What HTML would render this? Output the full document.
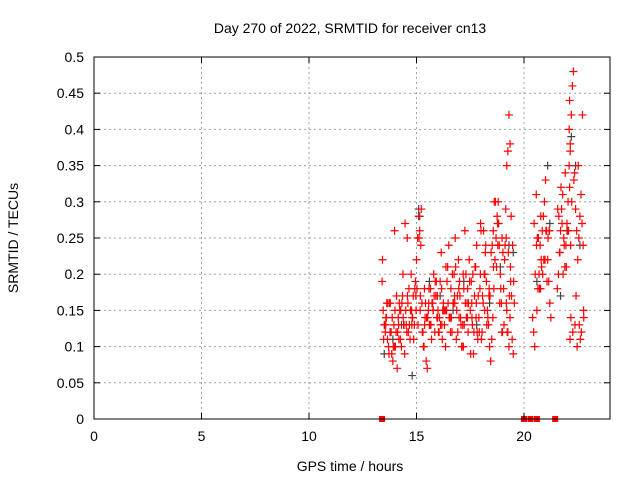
<!DOCTYPE html>
<html><head><meta charset="utf-8"><style>
body{margin:0;background:#fff}
svg{display:block;font-family:"Liberation Sans",sans-serif}
</style></head><body>
<svg id="chart" width="640" height="480">
<rect width="640" height="480" fill="#fff"/>
<g id="grid"></g><g id="marks"></g><g id="axes"></g>
<text x="350" y="33" font-size="14" text-anchor="middle">Day 270 of 2022, SRMTID for receiver cn13</text>
<text x="350" y="471" font-size="14" text-anchor="middle">GPS time / hours</text>
<text x="18" y="238" font-size="14" text-anchor="middle" transform="rotate(-90 18 238)">SRMTID / TECUs</text>
</svg>
<script>
const xTicks=[0,5,10,15,20];
const yTicks=[0,0.05,0.1,0.15,0.2,0.25,0.3,0.35,0.4,0.45,0.5];
const redHours=[13.4,13.45,13.5,13.55,13.6,13.65,13.7,13.75,13.8,13.85,13.9,13.95,14.0,14.05,14.1,14.15,14.2,14.25,14.3,14.35,14.4,14.45,14.5,14.55,14.6,14.65,14.7,14.75,14.8,14.85,14.9,14.95,15.0,15.05,15.1,15.15,15.2,15.25,15.3,15.35,15.4,15.45,15.5,15.55,15.6,15.65,15.7,15.75,15.8,15.85,15.9,15.95,16.0,16.05,16.1,16.15,16.2,16.25,16.3,16.35,16.4,16.45,16.5,16.55,16.6,16.65,16.7,16.75,16.8,16.85,16.9,16.95,17.0,17.05,17.1,17.15,17.2,17.25,17.3,17.35,17.4,17.45,17.5,17.55,17.6,17.65,17.7,17.75,17.8,17.85,17.9,17.95,18.0,18.05,18.1,18.15,18.2,18.25,18.3,18.35,18.4,18.45,18.5,18.55,18.6,18.65,18.7,18.75,18.8,18.85,18.9,18.95,19.0,19.05,19.1,19.15,19.2,19.25,19.3,19.35,19.4,19.45,19.5,19.55,20.4,20.45,20.5,20.6,20.65,20.7,20.75,20.8,20.85,20.9,20.95,21.0,21.05,21.1,21.15,21.2,21.25,21.55,21.6,21.65,21.7,21.75,21.8,21.85,21.9,21.95,22.0,22.05,22.1,22.15,22.2,22.25,22.3,22.35,22.4,22.45,22.5,22.55,22.6,22.65,22.7,22.75,13.42,13.62,13.82,14.02,14.22,14.42,14.62,14.82,15.02,15.22,15.42,15.62,15.82,16.02,16.22,16.42,16.62,16.82,17.02,17.22,17.42,17.62,17.82,18.02,18.22,18.42,18.62,18.82,19.02,19.22,19.42,20.52,20.72,20.92,21.12,21.62,21.82,22.02,22.22,22.42,22.62,22.78,13.52,13.72,13.92,14.12,14.32,14.52,14.72,14.92,15.12,15.32,15.52,15.72,15.92,16.12,16.32,16.52,16.72,16.92,17.12,17.32,17.52,17.72,17.92,18.12,18.32,18.52,18.72,18.92,19.12,19.32,19.52,20.62,20.82,21.02,21.72,21.92,22.12,22.32,22.52,22.72,22.1,22.12,22.15,22.18,22.14,19.2,19.25,19.3,19.35,
13.47,13.57,13.67,13.77,13.87,13.97,14.07,14.17,14.27,14.37,14.47,14.57,14.67,14.77,14.87,14.97,15.07,15.17,15.27,15.37,15.47,15.57,15.67,15.77,15.87,15.97,16.07,16.17,16.27,16.37,16.47,16.57,16.67,16.77,16.87,16.97,17.07,17.17,17.27,17.37,17.47,17.57,17.67,17.77,17.87,17.97,18.07,18.17,18.27,18.37,18.47,18.57,18.67,18.77,18.87,18.97,19.07,19.17,19.27,19.37,19.47,20.47,20.57,20.67,20.77,20.87,20.97,21.07,21.17,21.57,21.67,21.77,21.87,21.97,22.07,22.17,22.27,22.37,22.47,22.57,22.67,22.77,
13.58,13.78,13.98,14.18,14.38,14.58,14.78,14.98,15.18,15.38,15.58,15.78,15.98,16.18,16.38,16.58,16.78,16.98,17.18,17.38,17.58,17.78,17.98,18.18,18.38,18.58,18.78,18.98,19.18,19.38,20.58,20.78,20.98,21.18,21.68,21.88,22.08,22.28,22.48,22.68];
const redTec=[0.19,0.15,0.13,0.12,0.14,0.11,0.1,0.16,0.12,0.09,0.08,0.13,0.15,0.12,0.07,0.14,0.16,0.11,0.1,0.17,0.13,0.09,0.15,0.12,0.16,0.18,0.11,0.2,0.14,0.17,0.13,0.19,0.22,0.25,0.28,0.26,0.24,0.16,0.12,0.1,0.14,0.08,0.07,0.15,0.13,0.18,0.11,0.16,0.2,0.12,0.17,0.14,0.15,0.12,0.19,0.23,0.11,0.16,0.13,0.1,0.15,0.21,0.24,0.14,0.18,0.12,0.16,0.2,0.25,0.11,0.17,0.22,0.19,0.14,0.1,0.13,0.18,0.26,0.2,0.16,0.12,0.22,0.15,0.19,0.13,0.09,0.17,0.21,0.24,0.11,0.14,0.18,0.26,0.12,0.16,0.2,0.23,0.19,0.15,0.13,0.1,0.08,0.11,0.14,0.18,0.22,0.25,0.28,0.3,0.24,0.2,0.16,0.12,0.18,0.22,0.29,0.35,0.37,0.42,0.38,0.28,0.11,0.09,0.16,0.14,0.12,0.1,0.15,0.18,0.2,0.24,0.22,0.26,0.28,0.3,0.33,0.26,0.22,0.19,0.16,0.14,0.18,0.2,0.23,0.26,0.29,0.31,0.25,0.21,0.24,0.27,0.3,0.35,0.37,0.42,0.46,0.48,0.34,0.29,0.26,0.22,0.25,0.28,0.31,0.27,0.24,0.22,0.16,0.12,0.1,0.15,0.13,0.12,0.14,0.18,0.29,0.16,0.13,0.17,0.12,0.15,0.19,0.14,0.21,0.17,0.13,0.16,0.2,0.12,0.11,0.24,0.17,0.3,0.27,0.23,0.12,0.17,0.2,0.18,0.22,0.25,0.28,0.2,0.26,0.3,0.17,0.11,0.14,0.13,0.09,0.1,0.12,0.16,0.13,0.15,0.18,0.25,0.1,0.14,0.16,0.19,0.13,0.15,0.14,0.16,0.12,0.1,0.14,0.09,0.21,0.12,0.26,0.14,0.24,0.21,0.18,0.24,0.17,0.19,0.25,0.21,0.26,0.32,0.34,0.32,0.33,0.35,0.42,0.4,0.44,0.38,
0.14,0.11,0.15,0.12,0.1,0.14,0.11,0.13,0.16,0.12,0.14,0.1,0.17,0.13,0.15,0.2,0.27,0.25,0.13,0.15,0.11,0.17,0.13,0.15,0.12,0.18,0.14,0.16,0.13,0.15,0.19,0.17,0.14,0.18,0.15,0.21,0.16,0.14,0.2,0.17,0.15,0.18,0.13,0.2,0.16,0.14,0.19,0.16,0.12,0.14,0.17,0.2,0.17,0.15,0.13,0.17,0.23,0.26,0.3,0.27,0.16,0.12,0.13,0.25,0.23,0.21,0.24,0.27,0.31,0.25,0.18,0.2,0.22,0.19,0.26,0.29,0.23,0.27,0.24,0.21,0.26,0.24,
0.12,0.13,0.1,0.13,0.12,0.15,0.14,0.16,0.26,0.11,0.14,0.17,0.13,0.15,0.17,0.13,0.18,0.15,0.14,0.13,0.15,0.12,0.16,0.14,0.1,0.18,0.14,0.16,0.27,0.2,0.18,0.21,0.24,0.25,0.16,0.19,0.24,0.28,0.22,0.26];
const grayHours=[13.5,13.9,14.3,14.8,15.1,15.15,15.6,16.1,16.7,17.2,17.8,18.4,18.9,19.3,19.5,20.6,21.1,21.2,21.7,22.0,22.2,22.4,22.6];
const grayTec=[0.09,0.11,0.13,0.06,0.29,0.28,0.19,0.17,0.15,0.19,0.13,0.16,0.21,0.24,0.23,0.19,0.35,0.27,0.17,0.26,0.39,0.35,0.24];
const redZeroHours=[13.4,20.0,20.3,20.6,21.45];
const X0=94,X1=610,Y0=419,Y1=57;
const xs=h=>X0+h/24*(X1-X0);
const ys=v=>Y0-v/0.5*(Y0-Y1);
const NS="http://www.w3.org/2000/svg";
function mk(tag,attrs,parent){const e=document.createElementNS(NS,tag);for(const k in attrs)e.setAttribute(k,attrs[k]);parent.appendChild(e);return e;}
const grid=document.getElementById('grid'),axes=document.getElementById('axes'),marks=document.getElementById('marks');
xTicks.forEach(t=>{const x=xs(t);
 if(t>0){const g=mk('line',{x1:x,x2:x,y1:Y0,y2:Y1,stroke:'#a0a0a0','stroke-dasharray':'2,3'},grid);
 
 }
 mk('line',{x1:x,x2:x,y1:Y0,y2:Y0-6,stroke:'#000'},axes);
 mk('line',{x1:x,x2:x,y1:Y1,y2:Y1+6,stroke:'#000'},axes);
 const l=mk('text',{x:x,y:Y0+22,'font-size':14,'text-anchor':'middle'},axes);l.textContent=t;
 
 });
yTicks.forEach(t=>{const y=ys(t);
 if(t>0&&t<0.5){const g=mk('line',{x1:X0,x2:X1,y1:y,y2:y,stroke:'#a0a0a0','stroke-dasharray':'2,3'},grid);
 
 }
 mk('line',{x1:X0,x2:X0+6,y1:y,y2:y,stroke:'#000'},axes);
 mk('line',{x1:X1,x2:X1-6,y1:y,y2:y,stroke:'#000'},axes);
 const l=mk('text',{x:X0-10,y:y+5,'font-size':14,'text-anchor':'end'},axes);l.textContent=t;
 
 });
const fr=mk('rect',{x:X0,y:Y1,width:X1-X0,height:Y0-Y1,fill:'none',stroke:'#000'},axes);


function plus(h,v,col){const x=xs(h),y=ys(v);
 const p=mk('path',{d:`M${x-4} ${y}H${x+4}M${x} ${y-4}V${y+4}`,stroke:col,'stroke-width':1.2,fill:'none'},marks);
 
 }
grayHours.forEach((h,i)=>plus(h,grayTec[i],'#444'));
redHours.forEach((h,i)=>plus(h,redTec[i],'#f00'));
redZeroHours.forEach(h=>{const r=mk('rect',{x:xs(h)-3,y:Y0-3,width:6,height:6,fill:'#f00'},marks);
 
 });
</script>
</body></html>
